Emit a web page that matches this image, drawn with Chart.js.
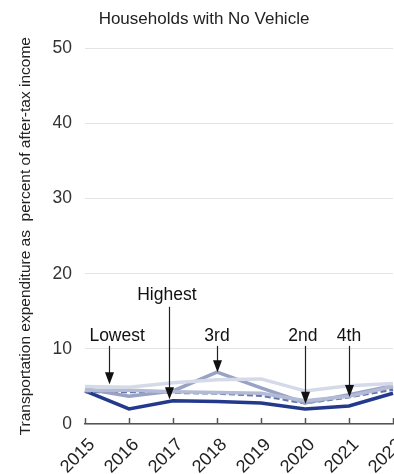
<!DOCTYPE html>
<html>
<head>
<meta charset="utf-8">
<script src="https://cdn.jsdelivr.net/npm/chart.js@4.4.0/dist/chart.umd.min.js"></script>
<style>
html,body{margin:0;padding:0;background:#fff;overflow:hidden;width:394px;height:474px;}
#wrap{position:absolute;left:0;top:0;width:394px;height:474px;}
</style>
</head>
<body>
<div id="wrap"><canvas id="c" width="394" height="474"></canvas></div>
<script>
const years = ['2015','2016','2017','2018','2019','2020','2021','2022'];
const lowest  = [5.0, 4.9, 5.5, 5.9, 6.0, 4.4, 5.1, 5.4];
const second  = [4.3, 4.3, 4.2, 4.1, 3.8, 2.8, 3.6, 4.6];
const third   = [4.7, 3.7, 4.4, 6.9, 4.8, 2.8, 3.9, 5.1];
const fourth  = [4.5, 4.5, 4.3, 4.2, 4.1, 3.1, 3.7, 5.0];
const highest = [4.4, 2.0, 3.1, 3.0, 2.8, 2.0, 2.4, 4.1];
const yTicks = [0, 10, 20, 30, 40, 50];
const titleText = 'Households with No Vehicle';
const yTitle = 'Transportation expenditure as  percent of after-tax income';
// callouts: label text, label x (category index), label y (value), arrow x, arrow start y, arrow tip y
const calloutLabels = ['Lowest', 'Highest', '3rd', '2nd', '4th'];
const calloutLabelX = [0.73, 1.86, 3, 4.95, 6];
const calloutLabelY = [11.7, 17.2, 11.7, 11.7, 11.7];
const calloutTipX   = [0.55, 1.9, 3, 5, 6];
const calloutFromY  = [10.4, 15.6, 10.4, 10.4, 10.4];
const calloutTipY   = [5.3, 3.3, 6.9, 2.7, 3.6];

const font = '"Liberation Sans", Arial, sans-serif';

const axisPlugin = {
  id: 'axisDecor',
  afterDraw(chart) {
    const {ctx, scales:{x}} = chart;
    const base = x.top;
    ctx.save();
    ctx.strokeStyle = '#555';
    ctx.lineWidth = 1.5;
    for (let i = 0; i < years.length; i++) {
      const px = Math.round(x.getPixelForValue(i)) + 0.5;
      ctx.beginPath();
      ctx.moveTo(px, base);
      ctx.lineTo(px, base - 6);
      ctx.stroke();
    }
    ctx.fillStyle = '#222';
    ctx.font = '18px ' + font;
    ctx.textAlign = 'right';
    ctx.textBaseline = 'middle';
    for (let i = 0; i < years.length; i++) {
      const px = x.getPixelForValue(i);
      ctx.save();
      ctx.translate(px + 7, base + 18);
      ctx.rotate(-Math.PI / 4);
      ctx.fillText(years[i], 0, 0);
      ctx.restore();
    }
    ctx.restore();
  }
};

const calloutPlugin = {
  id: 'callouts',
  afterDatasetsDraw(chart) {
    const {ctx, scales:{x, y}} = chart;
    ctx.save();
    ctx.fillStyle = '#111';
    ctx.strokeStyle = '#222';
    ctx.lineWidth = 1.2;
    ctx.font = '17.5px ' + font;
    ctx.textAlign = 'center';
    ctx.textBaseline = 'middle';
    for (let i = 0; i < calloutLabels.length; i++) {
      ctx.fillText(calloutLabels[i], x.getPixelForValue(calloutLabelX[i]), y.getPixelForValue(calloutLabelY[i]));
      const ax = Math.round(x.getPixelForValue(calloutTipX[i])) + 0.5;
      const y0 = y.getPixelForValue(calloutFromY[i]);
      const y1 = y.getPixelForValue(calloutTipY[i]);
      ctx.beginPath();
      ctx.moveTo(ax, y0);
      ctx.lineTo(ax, y1 - 8);
      ctx.stroke();
      ctx.beginPath();
      ctx.moveTo(ax, y1);
      ctx.lineTo(ax - 4.5, y1 - 12);
      ctx.lineTo(ax + 4.5, y1 - 12);
      ctx.closePath();
      ctx.fill();
    }
    ctx.restore();
  }
};

new Chart(document.getElementById('c'), {
  type: 'line',
  data: {
    labels: years,
    datasets: [
      {label:'Lowest', data: lowest, borderColor:'#d5dae9', borderWidth:3.5},
      {label:'4th', data: fourth, borderColor:'#b3bbd6', borderWidth:3.5},
      {label:'3rd', data: third, borderColor:'#99a2c4', borderWidth:3.5},
      {label:'2nd', data: second, borderColor:'#6676a8', borderWidth:3, borderDash:[6,3]},
      {label:'Highest', data: highest, borderColor:'#22398c', borderWidth:3.5}
    ].map(d => Object.assign({pointRadius:0, tension:0, fill:false, clip:false}, d))
  },
  options: {
    responsive: false,
    animation: false,
    devicePixelRatio: 1,
    layout: {padding: {top: 0, right: 1, left: 0, bottom: 0}},
    plugins: {
      legend: {display: false},
      tooltip: {enabled: false},
      title: {display: true, text: titleText, color:'#222', font:{family:font, size:17, weight:'normal'}, padding:{top:9, bottom:19}}
    },
    scales: {
      x: {
        grid: {display:false},
        border: {display:true, color:'#555', width:1.5},
        ticks: {display:false},
        afterFit(s){ s.height = 50; }
      },
      y: {
        min: 0, max: 50,
        afterBuildTicks(s){ s.ticks = yTicks.map(v => ({value:v})); },
        grid: {color:'#e4e4e4', drawTicks:false, lineWidth:1},
        border: {display:false},
        ticks: {color:'#333', font:{family:font, size:17.5}, padding:13},
        title: {display:true, text:yTitle, color:'#222', font:{family:font, size:15.5}, padding:{top:16,bottom:0}},
        afterFit(s){ s.width = 85; }
      }
    }
  },
  plugins: [calloutPlugin, axisPlugin, {
    id:'titlePos',
    beforeDraw(chart){
      const t = chart.titleBlock;
      if (t) { t.left = 14; t.right = 394; }
    }
  }]
});
</script>
</body>
</html>
